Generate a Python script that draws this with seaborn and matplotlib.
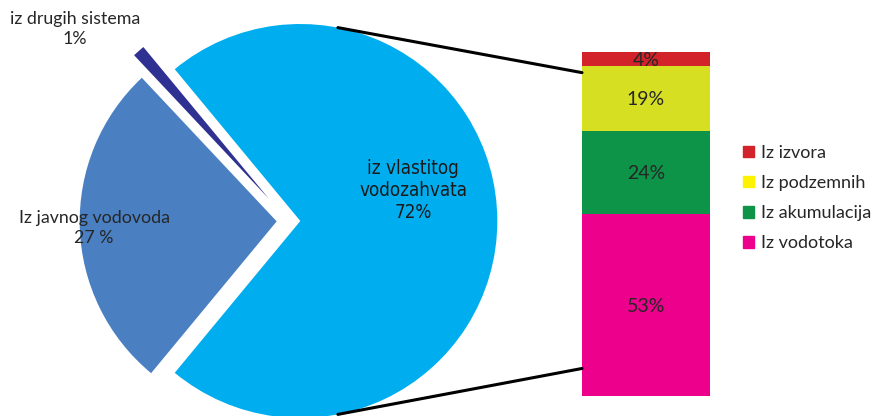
import numpy as np
import pandas as pd
import seaborn as sns
import matplotlib.pyplot as plt
from matplotlib.patches import Patch, ConnectionPatch

sns.set_style("white")
plt.rcParams["font.family"] = ["Lato", "DejaVu Sans"]

# pie data
pie_labels = ["iz vlastitog\nvodozahvata", "iz drugih sistema", "Iz javnog vodovoda"]
pie_values = [72, 1, 27]
pie_pct = ["72%", "1%", "27 %"]
pie_colors = ["#00AEEF", "#2E3192", "#4A80C2"]

# stacked bar data (bottom to top)
bar_labels = ["Iz vodotoka", "Iz akumulacija", "Iz podzemnih", "Iz izvora"]
bar_values = [53, 24, 19, 4]
bar_colors = ["#EC008C", "#0D9448", "#D7DF23", "#D2232A"]
legend_colors = ["#EC008C", "#0D9448", "#FFF200", "#D2232A"]

W, H = 872, 416
fig = plt.figure(figsize=(W / 100, H / 100), dpi=100)

# pie axes covering the whole figure, 197 px per unit
R = 197.0
cx, cy = 288.5, 221.0
ax = fig.add_axes([0, 0, 1, 1])
start = -360 * pie_values[0] / 100 / 2
wedges, _ = ax.pie(pie_values, colors=pie_colors, startangle=start,
                   explode=[0.06, 0.15, 0.06], counterclock=True,
                   wedgeprops=dict(linewidth=0))
ax.set_xlim(-cx / R, (W - cx) / R)
ax.set_ylim(-(H - cy) / R, cy / R)
ax.set_aspect("equal")
ax.axis("off")

def ftext(px, py, s, **kw):
    fig.text(px / W, 1 - py / H, s, ha="center", va="center", **kw)

ftext(413, 191, pie_labels[0] + "\n" + pie_pct[0], fontsize=13.5, color="#1a1a1a",
      family="DejaVu Sans", fontstretch="condensed", linespacing=1.2)
ftext(75, 29, pie_labels[1] + "\n" + pie_pct[1], fontsize=12.8, linespacing=1.35)
ftext(94, 228, pie_labels[2] + "\n" + pie_pct[2], fontsize=12.8, linespacing=1.35)

# stacked bar
bax = fig.add_axes([582 / W, (H - 396) / H, 128 / W, 344 / H])
cum = np.cumsum(bar_values)
for i in range(len(bar_values) - 1, -1, -1):
    df = pd.DataFrame({"k": [""], "v": [cum[i]]})
    sns.barplot(data=df, x="k", y="v", color=bar_colors[i], saturation=1,
                width=1, linewidth=0, ax=bax)
for i, v in enumerate(bar_values):
    bax.text(0, cum[i] - v / 2, f"{v}%", ha="center", va="center_baseline",
             fontsize=14)
bax.set_xlim(-0.5, 0.5)
bax.set_ylim(0, 100)
bax.axis("off")

# connector lines from the big wedge to the bar
w0 = wedges[0]
ang = np.deg2rad(79)
for sgn, yb in [(1, 94), (-1, 8)]:
    pa = (w0.center[0] + np.cos(ang), w0.center[1] + sgn * np.sin(ang))
    con = ConnectionPatch(xyA=pa, coordsA=ax.transData, xyB=(-0.5, yb),
                          coordsB=bax.transData, color="black", lw=2.2)
    fig.add_artist(con)

handles = [Patch(color=c) for c in legend_colors[::-1]]
fig.legend(handles, bar_labels[::-1], loc="upper left",
           bbox_to_anchor=(743 / W, 1 - 145 / H), frameon=False,
           fontsize=13, handlelength=0.6, handleheight=0.6,
           handletextpad=0.4, labelspacing=0.78, borderpad=0, borderaxespad=0)

fig.savefig("out.png", dpi=100)
